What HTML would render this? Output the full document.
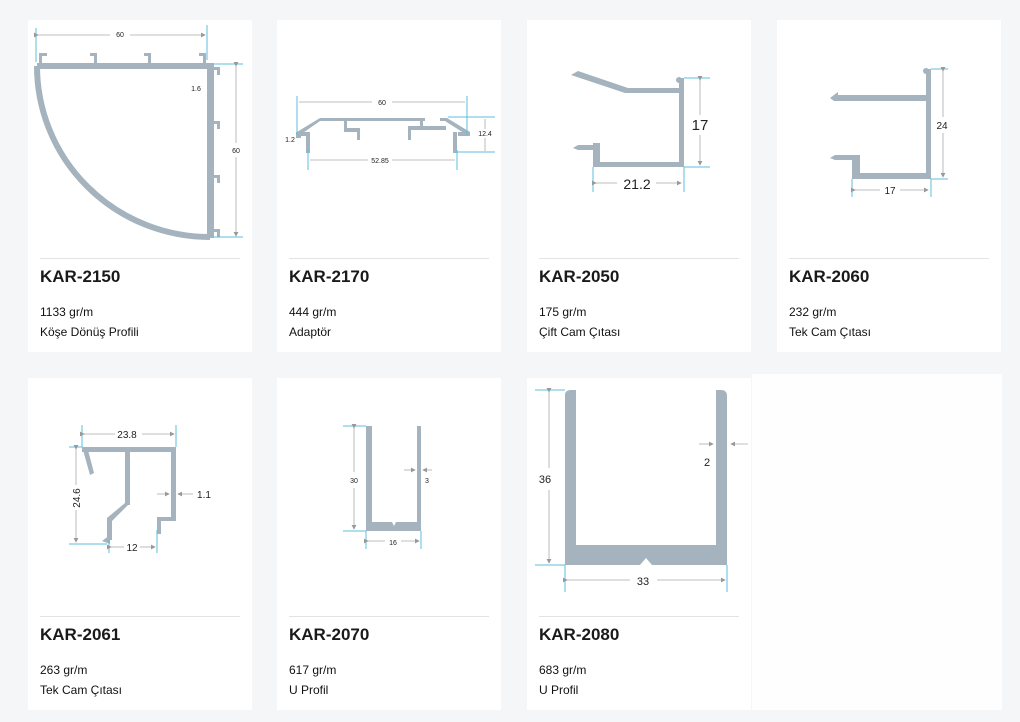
<!DOCTYPE html>
<html><head><meta charset="utf-8"><style>
body{margin:0;width:1020px;height:722px;background:#f5f6f8;position:relative;overflow:hidden;font-family:"Liberation Sans",sans-serif;color:#111}
.card{position:absolute;background:#fff;width:224px;height:332px}
.sep{position:absolute;left:12px;right:12px;top:238px;border-top:1px solid #e3e3e3}
.t{position:absolute;left:12px;top:247px;font-size:17px;font-weight:bold;color:#1a1a1a}
.w{position:absolute;left:12px;top:285px;font-size:12px}
.d{position:absolute;left:12px;top:305px;font-size:12px}
svg{position:absolute;left:0;top:0}
</style></head><body>
<div class="card" style="left:28px;top:20px"><div class="sep"></div><div class="t">KAR-2150</div><div class="w">1133 gr/m</div><div class="d">Köşe Dönüş Profili</div></div>
<div class="card" style="left:277px;top:20px"><div class="sep"></div><div class="t">KAR-2170</div><div class="w">444 gr/m</div><div class="d">Adaptör</div></div>
<div class="card" style="left:527px;top:20px"><div class="sep"></div><div class="t">KAR-2050</div><div class="w">175 gr/m</div><div class="d">Çift Cam Çıtası</div></div>
<div class="card" style="left:777px;top:20px"><div class="sep"></div><div class="t">KAR-2060</div><div class="w">232 gr/m</div><div class="d">Tek Cam Çıtası</div></div>
<div class="card" style="left:28px;top:378px"><div class="sep"></div><div class="t">KAR-2061</div><div class="w">263 gr/m</div><div class="d">Tek Cam Çıtası</div></div>
<div class="card" style="left:277px;top:378px"><div class="sep"></div><div class="t">KAR-2070</div><div class="w">617 gr/m</div><div class="d">U Profil</div></div>
<div class="card" style="left:527px;top:378px"><div class="sep"></div><div class="t">KAR-2080</div><div class="w">683 gr/m</div><div class="d">U Profil</div></div>
<div class="card" style="left:752px;top:374px;width:250px;height:336px;background:#fefefe"></div>
<svg width="1020" height="722" font-family="Liberation Sans,sans-serif">
<defs><marker id="a" markerWidth="6" markerHeight="6" refX="5" refY="3" orient="auto"><path d="M0,0L6,3L0,6z" fill="#999"/></marker></defs>
<g fill="#a4b3bd" stroke="none">
<rect x="37" y="63" width="177" height="6"/><rect x="207" y="63" width="7" height="175"/>
<path d="M37,66 A173,171 0 0 0 210,237" fill="none" stroke="#a4b3bd" stroke-width="6"/>
<g><rect x="39" y="53" width="3" height="10"/><rect x="39" y="53" width="8" height="3"/><rect x="94" y="53" width="3" height="10"/><rect x="90" y="53" width="7" height="3"/><rect x="148" y="53" width="3" height="10"/><rect x="144" y="53" width="7" height="3"/><rect x="203" y="53" width="3" height="10"/><rect x="199" y="53" width="7" height="3"/>
<rect x="214" y="67" width="6" height="3"/><rect x="217" y="67" width="3" height="8"/><rect x="214" y="121" width="6" height="3"/><rect x="217" y="121" width="3" height="8"/><rect x="214" y="175" width="6" height="3"/><rect x="217" y="175" width="3" height="8"/><rect x="214" y="229" width="6" height="3"/><rect x="217" y="229" width="3" height="8"/></g>
<path d="M297,132 L320,118 L425,118 L425,121 L320,121 L300,135 Z"/><path d="M440,118 L447,118 L470,132 L467,135 L445,121 L440,121Z"/>
<rect x="296" y="132" width="5" height="6"/><rect x="296" y="132" width="14" height="4"/><rect x="306" y="132" width="4" height="21"/>
<rect x="344" y="120" width="3" height="12"/><rect x="344" y="128" width="16" height="4"/><rect x="357" y="128" width="3" height="12"/>
<rect x="420" y="120" width="3" height="10"/><rect x="408" y="126" width="38" height="4"/><rect x="408" y="126" width="3" height="14"/>
<rect x="458" y="132" width="12" height="4"/><rect x="453" y="132" width="4" height="21"/>
<rect x="679" y="78" width="5" height="89"/><rect x="593" y="162" width="91" height="5"/><rect x="593" y="143" width="7" height="24"/><path d="M573,148 L578,145 L600,145 L600,150 L578,150Z"/>
<path d="M571,75 L578,71 L628,88 L680,88 L680,93 L625,93 Z"/><circle cx="679" cy="80" r="3"/>
<rect x="926" y="69" width="5" height="110"/><circle cx="926" cy="71" r="3"/><path d="M830,98 L838,92 L838,95 L926,95 L926,101 L834,101Z"/>
<rect x="852" y="155" width="8" height="24"/><path d="M830,158 L835,155 L860,155 L860,160 L835,160Z"/><rect x="852" y="173" width="79" height="6"/>
<rect x="82" y="447" width="94" height="5"/><rect x="171" y="447" width="5" height="73"/><path d="M83,450 L88,450 L94,473 L90,475Z"/>
<rect x="125" y="450" width="5" height="55"/><path d="M125,503 L130,503 L112,521 L112,540 L107,540 L107,518Z"/><path d="M102,541 L110,535 L110,544Z"/>
<rect x="157" y="517" width="19" height="4"/><rect x="157" y="517" width="4" height="17"/>
<rect x="366" y="426" width="6" height="105"/><rect x="417" y="426" width="4" height="105"/><path d="M366,522 L392,522 L394,526 L396,522 L421,522 L421,531 L366,531Z"/>
<path d="M565,395 Q565,390 571,390 L576,390 L576,545 L716,545 L716,390 L721,390 Q727,390 727,396 L727,565 L652,565 L646,558 L640,565 L565,565Z"/>
</g>
<g stroke="#5bbfdc" stroke-width="1">
<line x1="36" y1="28" x2="36" y2="62"/><line x1="207" y1="25" x2="207" y2="60"/><line x1="214" y1="64" x2="243" y2="64"/><line x1="214" y1="237" x2="243" y2="237"/>
<line x1="297" y1="96" x2="297" y2="135"/><line x1="467" y1="96" x2="467" y2="135"/><line x1="448" y1="117" x2="495" y2="117"/><line x1="455" y1="152" x2="495" y2="152"/><line x1="308" y1="150" x2="308" y2="170"/><line x1="457" y1="150" x2="457" y2="170"/>
<line x1="684" y1="78" x2="710" y2="78"/><line x1="684" y1="167" x2="710" y2="167"/><line x1="593" y1="167" x2="593" y2="192"/><line x1="684" y1="167" x2="684" y2="192"/>
<line x1="931" y1="69" x2="948" y2="69"/><line x1="931" y1="179" x2="948" y2="179"/><line x1="852" y1="179" x2="852" y2="197"/><line x1="931" y1="179" x2="931" y2="197"/>
<line x1="82" y1="425" x2="82" y2="447"/><line x1="176" y1="425" x2="176" y2="447"/><line x1="69" y1="447" x2="82" y2="447"/><line x1="69" y1="544" x2="107" y2="544"/><line x1="109" y1="540" x2="109" y2="553"/><line x1="157" y1="530" x2="157" y2="553"/>
<line x1="343" y1="426" x2="366" y2="426"/><line x1="343" y1="531" x2="366" y2="531"/><line x1="366" y1="531" x2="366" y2="549"/><line x1="421" y1="531" x2="421" y2="549"/>
<line x1="535" y1="390" x2="565" y2="390"/><line x1="535" y1="565" x2="565" y2="565"/><line x1="565" y1="565" x2="565" y2="592"/><line x1="727" y1="565" x2="727" y2="592"/>
</g>
<g stroke="#aaa" stroke-width="0.8" fill="none">
<line x1="38" y1="35" x2="110" y2="35" marker-start="url(#a)"/><line x1="130" y1="35" x2="205" y2="35" marker-end="url(#a)"/>
<line x1="236" y1="66" x2="236" y2="143" marker-start="url(#a)"/><line x1="236" y1="157" x2="236" y2="236" marker-end="url(#a)"/>
<line x1="299" y1="102" x2="372" y2="102"/><line x1="392" y1="102" x2="465" y2="102"/><line x1="485" y1="119" x2="485" y2="129"/><line x1="485" y1="138" x2="485" y2="151"/><line x1="310" y1="160" x2="368" y2="160"/><line x1="392" y1="160" x2="455" y2="160"/>
<line x1="700" y1="80" x2="700" y2="115" marker-start="url(#a)"/><line x1="700" y1="135" x2="700" y2="165" marker-end="url(#a)"/>
<line x1="596" y1="183" x2="617" y2="183" marker-start="url(#a)"/><line x1="656" y1="183" x2="681" y2="183" marker-end="url(#a)"/>
<line x1="943" y1="71" x2="943" y2="117" marker-start="url(#a)"/><line x1="943" y1="133" x2="943" y2="177" marker-end="url(#a)"/>
<line x1="855" y1="190" x2="880" y2="190" marker-start="url(#a)"/><line x1="900" y1="190" x2="928" y2="190" marker-end="url(#a)"/>
<line x1="84" y1="434" x2="115" y2="434" marker-start="url(#a)"/><line x1="142" y1="434" x2="174" y2="434" marker-end="url(#a)"/>
<line x1="76" y1="449" x2="76" y2="485" marker-start="url(#a)"/><line x1="76" y1="510" x2="76" y2="542" marker-end="url(#a)"/>
<line x1="111" y1="547" x2="124" y2="547" marker-start="url(#a)"/><line x1="140" y1="547" x2="155" y2="547" marker-end="url(#a)"/>
<line x1="157" y1="494" x2="169" y2="494" marker-end="url(#a)"/><line x1="193" y1="494" x2="178" y2="494" marker-end="url(#a)"/>
<line x1="354" y1="428" x2="354" y2="472" marker-start="url(#a)"/><line x1="354" y1="488" x2="354" y2="529" marker-end="url(#a)"/>
<line x1="368" y1="541" x2="385" y2="541" marker-start="url(#a)"/><line x1="401" y1="541" x2="419" y2="541" marker-end="url(#a)"/>
<line x1="404" y1="470" x2="415" y2="470" marker-end="url(#a)"/><line x1="432" y1="470" x2="423" y2="470" marker-end="url(#a)"/>
<line x1="549" y1="392" x2="549" y2="468" marker-start="url(#a)"/><line x1="549" y1="490" x2="549" y2="563" marker-end="url(#a)"/>
<line x1="567" y1="580" x2="630" y2="580" marker-start="url(#a)"/><line x1="657" y1="580" x2="725" y2="580" marker-end="url(#a)"/>
<line x1="699" y1="444" x2="713" y2="444" marker-end="url(#a)"/><line x1="748" y1="444" x2="731" y2="444" marker-end="url(#a)"/>
</g>
<g fill="#222" font-size="7" text-anchor="middle">
<text x="120" y="37">60</text><text x="236" y="153">60</text><text x="196" y="91">1.6</text>
<text x="382" y="105">60</text><text x="485" y="136">12.4</text><text x="380" y="163">52.85</text><text x="290" y="142">1.2</text>
<text x="354" y="483">30</text><text x="427" y="483">3</text><text x="393" y="545">16</text>
</g>
<g fill="#222" text-anchor="middle">
<text x="700" y="130" font-size="15">17</text><text x="637" y="189" font-size="14">21.2</text>
<text x="942" y="129" font-size="10">24</text><text x="890" y="194" font-size="10">17</text>
<text x="127" y="438" font-size="10">23.8</text><text x="80" y="498" font-size="10" transform="rotate(-90 80 498)">24.6</text><text x="132" y="551" font-size="10">12</text><text x="204" y="498" font-size="10">1.1</text>
<text x="545" y="483" font-size="11">36</text><text x="707" y="466" font-size="11">2</text><text x="643" y="585" font-size="11">33</text>
</g>
</svg>
</body></html>
